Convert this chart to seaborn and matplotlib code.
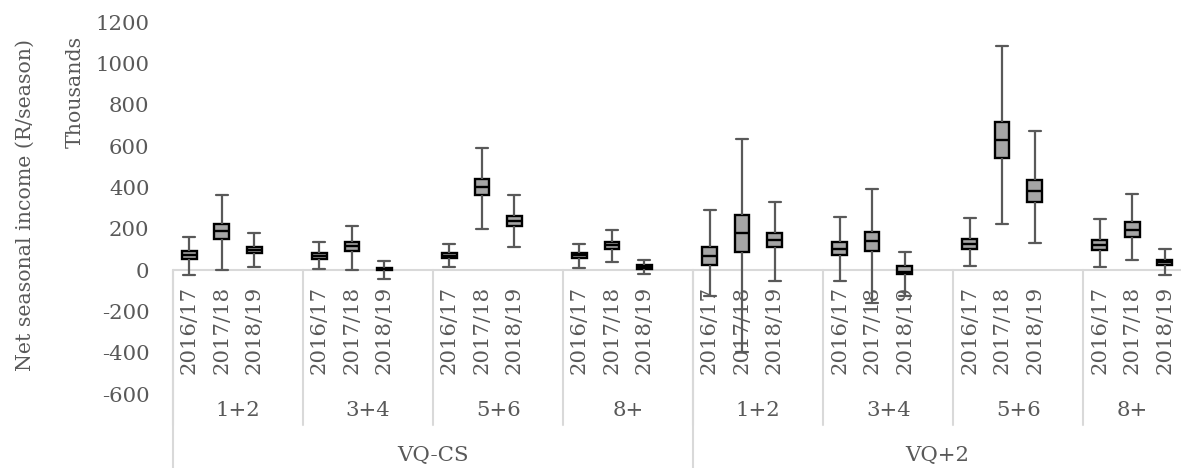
import numpy as np
import pandas as pd
import matplotlib
matplotlib.use("Agg")
import matplotlib.pyplot as plt
import matplotlib.transforms as mtransforms
import seaborn as sns

# ---- data (values in thousands R/season) ----
outer_groups = ["VQ-CS", "VQ+2"]
size_groups = ["1+2", "3+4", "5+6", "8+"]
seasons = ["2016/17", "2017/18", "2018/19"]

whisker_low = [-24, 0, 13,   3, 0, -45,   13, 200, 109,   9, 40, -17,
               -127, -398, -54,   -54, -159, -127,   17, 225, 129,   14, 48, -23]
q1 =          [52, 152, 81,   55, 94, 0,   56, 361, 214,   57, 101, 6,
               22, 86, 109,   73, 90, -17,   103, 544, 331,   98, 161, 24]
median =      [71, 189, 97,   70, 115, 5,   70, 400, 238,   72, 120, 14,
               67, 177, 144,   101, 139, -9,   126, 631, 384,   121, 195, 37]
q3 =          [90, 225, 113,   84, 136, 11,   83, 438, 262,   81, 135, 22,
               110, 264, 177,   135, 186, 20,   150, 715, 436,   143, 230, 50]
whisker_high = [158, 362, 177,   137, 214, 42,   128, 588, 361,   125, 195, 47,
                291, 632, 328,   257, 393, 85,   251, 1086, 673,   247, 369, 103]

y_ticks = [-600, -400, -200, 0, 200, 400, 600, 800, 1000, 1200]

# ---- build slot order (3 seasons + 1 empty slot per size group, last group w/o gap) ----
order = []
rows = []
i = 0
for o in outer_groups:
    for s in size_groups:
        for season in seasons:
            key = f"{o}|{s}|{season}"
            order.append(key)
            for v in (whisker_low[i], q1[i], median[i], q3[i], whisker_high[i]):
                rows.append({"slot": key, "value": v})
            i += 1
        if not (o == outer_groups[-1] and s == size_groups[-1]):
            order.append(f"{o}|{s}|gap")
df = pd.DataFrame(rows)

# ---- style ----
sns.set_style("white")
plt.rcParams["font.family"] = ["DejaVu Serif"]
text_color = "#595959"
fs = 15.3
fs_title = 14.8

W, H = 1181, 468
fig = plt.figure(figsize=(W / 100, H / 100), dpi=100)
ax = fig.add_axes([173 / W, 1 - 394 / H, 1 - 173 / W, (394 - 22) / H])

sns.boxplot(data=df, x="slot", y="value", order=order, ax=ax,
            whis=(0, 100), width=0.45, color="#A5A5A5", saturation=1,
            linecolor="black", linewidth=1.7, showfliers=False,
            whiskerprops={"color": "#595959", "linewidth": 1.6},
            capprops={"color": "#595959", "linewidth": 1.6},
            medianprops={"color": "black", "linewidth": 1.7},
            capwidths=0.37)

ax.set_xlim(-0.5, len(order) - 0.5)
ax.set_ylim(-600, 1200)
ax.set_yticks(y_ticks)
ax.set_yticklabels([str(t) for t in y_ticks], fontsize=fs, color=text_color)
ax.set_xticks([])
ax.set_xlabel("")
ax.set_ylabel("")
for sp in ax.spines.values():
    sp.set_visible(False)

# x axis line at zero
ax.axhline(0, color="#D9D9D9", linewidth=1.5, zorder=0.5)

# ---- multi-level category labels ----
tr = mtransforms.blended_transform_factory(ax.transData, fig.transFigure)
def fy(py):
    return 1 - py / H

sep_color = "#D9D9D9"
pos = {k: n for n, k in enumerate(order)}
for o in outer_groups:
    first_o = None
    last_o = None
    for s in size_groups:
        idxs = [pos[f"{o}|{s}|{season}"] for season in seasons]
        gap_key = f"{o}|{s}|gap"
        start = idxs[0] - 0.5
        end = (pos[gap_key] + 0.5) if gap_key in pos else idxs[-1] + 0.5
        if first_o is None:
            first_o = start
        last_o = end
        for season, ix in zip(seasons, idxs):
            ax.text(ix, fy(286), season, transform=tr, rotation=90,
                    ha="center", va="top", fontsize=fs, color=text_color,
                    zorder=1)
        ax.text((start + end) / 2, fy(411), s, transform=tr, ha="center",
                va="center", fontsize=fs, color=text_color)
        ax.plot([start, start], [fy(270), fy(425)], transform=tr,
                color=sep_color, linewidth=1.5, clip_on=False)
    ax.plot([first_o, first_o], [fy(270), fy(468)], transform=tr,
            color=sep_color, linewidth=1.5, clip_on=False)
    ax.text((first_o + last_o) / 2, fy(455), o, transform=tr, ha="center",
            va="center", fontsize=fs, color=text_color)

# ---- axis titles ----
fig.text(25 / W, fy(205), "Net seasonal income (R/season)", rotation=90,
         ha="center", va="center", fontsize=fs_title, color=text_color)
fig.text(75 / W, fy(92), "Thousands", rotation=90, ha="center",
         va="center", fontsize=fs_title, color=text_color)

ax.yaxis.set_tick_params(which="both", length=0, pad=17, left=False)

fig.savefig("out.png", dpi=100)
